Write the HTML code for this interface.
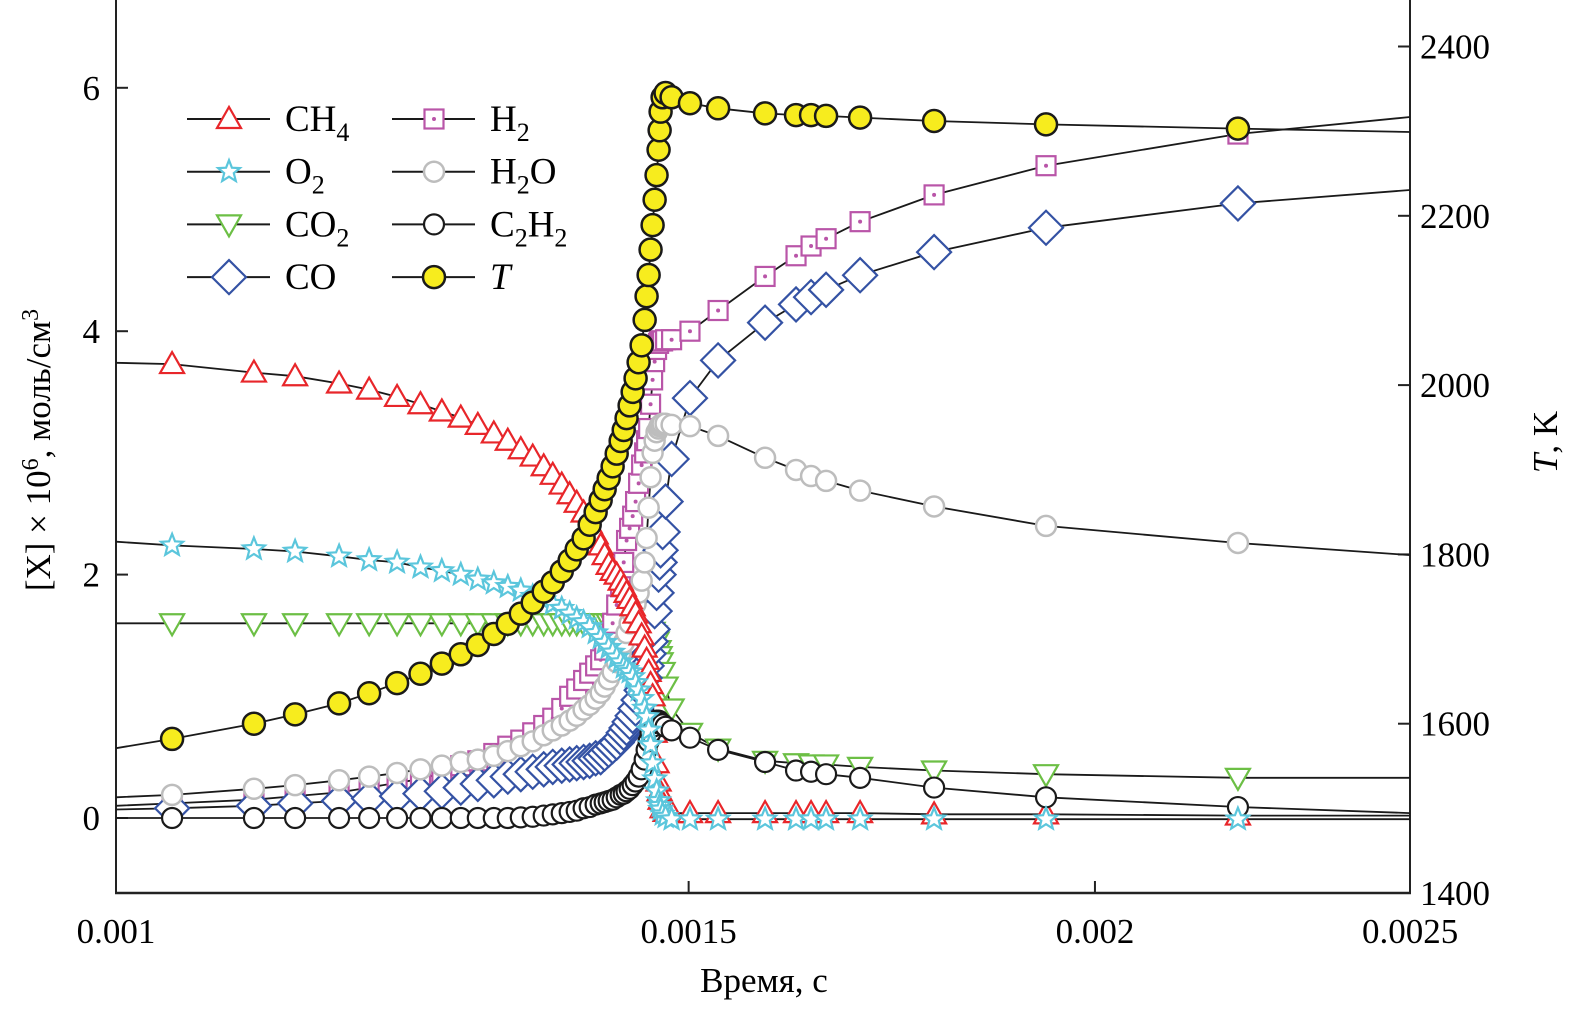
<!DOCTYPE html>
<html><head><meta charset="utf-8"><style>
html,body{margin:0;padding:0;background:#fff;}
svg{display:block;font-family:"Liberation Serif",serif;}
</style></head><body>
<svg id="chart" width="1582" height="1014" viewBox="0 0 1582 1014">
<g id="frame">
<line x1="116" y1="0" x2="116" y2="894" stroke="#222" stroke-width="2"/>
<line x1="1410" y1="0" x2="1410" y2="894" stroke="#222" stroke-width="2"/>
<line x1="115" y1="893" x2="1411" y2="893" stroke="#222" stroke-width="2.5"/>
</g>
<g id="ticks"></g>
<g id="series" clip-path="url(#clip)"></g>
<defs><clipPath id="clip"><rect x="116" y="0" width="1294" height="893"/></clipPath></defs>
<text x="764" y="992" font-size="35" text-anchor="middle">Время, с</text>
<text transform="translate(50,450) rotate(-90)" font-size="35" text-anchor="middle">[X] × 10<tspan dy="-12" font-size="24">6</tspan><tspan dy="12">, моль/см</tspan><tspan dy="-12" font-size="24">3</tspan></text>
<text transform="translate(1557,442) rotate(-90)" font-size="35" text-anchor="middle"><tspan font-style="italic">T</tspan>, K</text>
<g id="legend"></g>
</svg>
<script>
const times = [1.0,1.0405,1.1026,1.1352,1.1711,1.1963,1.2202,1.2406,1.2595,1.2765,1.2920,1.3067,1.3197,1.3319,1.3432,1.3537,1.3624,1.3711,1.3788,1.3857,1.3925,1.3985,1.4044,1.4094,1.4134,1.4174,1.4214,1.4255,1.4295,1.4326,1.4355,1.4386,1.4417,1.4447,1.4478,1.4509,1.4540,1.4560,1.4581,1.4601,1.4622,1.4643,1.4663,1.4684,1.4695,1.4705,1.4726,1.4757,1.4820,1.5014,1.5316,1.5834,1.6185,1.6358,1.6533,1.6936,1.7847,1.9319,2.2131,2.5];
const tempK = [1571,1582,1600,1611,1624,1636,1648,1659,1671,1682,1693,1706,1718,1730,1743,1756,1767,1780,1793,1806,1819,1835,1850,1864,1877,1890,1904,1919,1934,1947,1961,1976,1992,2008,2027,2047,2077,2105,2130,2160,2189,2219,2248,2278,2301,2323,2340,2345,2340,2333,2327,2321,2319,2319,2318,2316,2312,2308,2303,2299];
const ch4 = [3.74,3.73,3.66,3.63,3.57,3.52,3.46,3.40,3.34,3.29,3.23,3.16,3.10,3.03,2.97,2.89,2.82,2.74,2.66,2.59,2.51,2.42,2.33,2.24,2.16,2.08,2.03,2.0,1.95,1.9,1.85,1.8,1.74,1.68,1.6,1.5,1.4,1.3,1.2,1.1,1.0,0.7,0.45,0.3,0.22,0.15,0.08,0.05,0.04,0.04,0.04,0.04,0.04,0.04,0.04,0.04,0.03,0.03,0.02,0.02];
const o2 = [2.27,2.24,2.21,2.19,2.15,2.12,2.10,2.06,2.03,2.0,1.96,1.93,1.90,1.87,1.82,1.79,1.76,1.72,1.68,1.64,1.61,1.57,1.52,1.48,1.44,1.40,1.36,1.32,1.28,1.24,1.22,1.2,1.16,1.11,1.05,0.98,0.9,0.83,0.72,0.6,0.45,0.32,0.22,0.14,0.1,0.07,0.03,0.01,-0.01,-0.01,-0.01,-0.01,-0.01,-0.01,-0.01,-0.01,-0.01,-0.01,-0.01,-0.01];
const co2 = [1.6,1.6,1.6,1.6,1.6,1.6,1.6,1.6,1.6,1.6,1.6,1.6,1.6,1.6,1.6,1.6,1.6,1.6,1.6,1.6,1.6,1.6,1.6,1.6,1.6,1.6,1.6,1.6,1.6,1.6,1.6,1.6,1.6,1.6,1.6,1.6,1.6,1.59,1.58,1.56,1.53,1.50,1.45,1.38,1.33,1.28,1.20,1.08,0.90,0.70,0.57,0.47,0.45,0.44,0.44,0.42,0.39,0.36,0.33,0.33];
const h2 = [0.10,0.12,0.15,0.18,0.21,0.25,0.29,0.32,0.37,0.43,0.47,0.53,0.59,0.64,0.70,0.76,0.82,0.90,1.0,1.06,1.13,1.19,1.25,1.30,1.38,1.48,1.6,1.75,1.9,2.1,2.28,2.38,2.48,2.6,2.75,2.9,3.0,3.1,3.2,3.4,3.6,3.75,3.85,3.9,3.92,3.92,3.92,3.93,3.93,4.0,4.17,4.45,4.62,4.70,4.76,4.90,5.12,5.36,5.62,5.76];
const h2o = [0.17,0.19,0.24,0.27,0.31,0.34,0.37,0.40,0.43,0.46,0.48,0.51,0.55,0.59,0.63,0.68,0.72,0.76,0.80,0.84,0.89,0.93,0.98,1.03,1.08,1.14,1.2,1.28,1.36,1.44,1.52,1.6,1.68,1.76,1.85,1.95,2.1,2.3,2.55,2.8,3.0,3.1,3.17,3.2,3.22,3.23,3.24,3.24,3.23,3.22,3.14,2.96,2.86,2.81,2.77,2.69,2.56,2.40,2.26,2.16];
const co = [0.07,0.08,0.10,0.12,0.14,0.16,0.18,0.2,0.22,0.25,0.28,0.31,0.34,0.36,0.38,0.40,0.42,0.43,0.44,0.45,0.46,0.47,0.49,0.5,0.53,0.56,0.59,0.62,0.66,0.7,0.74,0.79,0.84,0.9,0.97,1.05,1.15,1.25,1.35,1.45,1.55,1.7,1.85,2.0,2.1,2.2,2.35,2.6,2.95,3.45,3.76,4.07,4.22,4.28,4.34,4.46,4.65,4.85,5.05,5.16];
const c2h2 = [0,0,0,0,0,0,0,0,0,0,0,0,0,0.005,0.01,0.02,0.03,0.04,0.05,0.06,0.08,0.09,0.11,0.12,0.13,0.14,0.15,0.17,0.19,0.2,0.22,0.24,0.27,0.3,0.34,0.4,0.48,0.56,0.63,0.7,0.75,0.78,0.8,0.8,0.79,0.78,0.77,0.75,0.72,0.66,0.56,0.46,0.39,0.38,0.36,0.33,0.25,0.17,0.09,0.04];
const xTickVals = [0.001,0.0015,0.002,0.0025];
const xTickLabels = ["0.001","0.0015","0.002","0.0025"];
const yLeftTicks = [0,2,4,6];
const yRightTicks = [1400,1600,1800,2000,2200,2400];

const NS="http://www.w3.org/2000/svg";
const xScale = t => 116 + 3252*Math.log10(t);       // t in ms
const xScaleS = s => xScale(s*1000);
const yL = v => 818 - 121.7*v;
const yR = T => 893 - (T-1400)*0.8465;
function mk(tag, attrs, parent){const e=document.createElementNS(NS,tag);for(const k in attrs)e.setAttribute(k,attrs[k]);parent.appendChild(e);return e;}

const ticks=document.getElementById('ticks');
xTickVals.forEach((v,i)=>{
  const x=xScaleS(v);
  if(i>0&&i<xTickVals.length-1){const l=mk('line',{x1:x,x2:x,y1:881,y2:893,stroke:'#222','stroke-width':2},ticks);
  
  }
  const t=mk('text',{x:x,y:943,'font-size':35,'text-anchor':'middle'},ticks);t.textContent=xTickLabels[i];
  
  
});
yLeftTicks.forEach(v=>{
  const y=yL(v);
  const l=mk('line',{x1:116,x2:128,y1:y,y2:y,stroke:'#222','stroke-width':2},ticks);
  
  
  const t=mk('text',{x:100,y:y+12,'font-size':35,'text-anchor':'end'},ticks);t.textContent=v;
  
  
});
yRightTicks.forEach(v=>{
  const y=yR(v);
  const l=mk('line',{x1:1398,x2:1410,y1:y,y2:y,stroke:'#222','stroke-width':2},ticks);
  
  
  const t=mk('text',{x:1420,y:y+12,'font-size':35},ticks);t.textContent=v;
  
  
});

function marker(kind, x, y, parent){
  let e;
  if(kind==='tri'){e=mk('polygon',{points:`${x-12},${y+9} ${x+12},${y+9} ${x},${y-12}`,fill:'#fff',stroke:'#e8262a','stroke-width':2.2},parent);}
  else if(kind==='itri'){e=mk('polygon',{points:`${x-12},${y-9} ${x+12},${y-9} ${x},${y+12}`,fill:'#fff',stroke:'#6cbf45','stroke-width':2.2},parent);}
  else if(kind==='star'){let p=[];for(let k=0;k<10;k++){const r=k%2?5:11.5;const a=-Math.PI/2+k*Math.PI/5;p.push((x+r*Math.cos(a)).toFixed(1)+','+(y+r*Math.sin(a)).toFixed(1));}
    e=mk('polygon',{points:p.join(' '),fill:'#fff',stroke:'#5bc6dc','stroke-width':2.2},parent);}
  else if(kind==='dia'){e=mk('polygon',{points:`${x-17},${y} ${x},${y-17} ${x+17},${y} ${x},${y+17}`,fill:'#fff',stroke:'#3452a4','stroke-width':2.2},parent);}
  else if(kind==='sq'){e=mk('g',{},parent);mk('rect',{x:x-9.5,y:y-9.5,width:19,height:19,fill:'#fff',stroke:'#b955a8','stroke-width':2.2},e);mk('circle',{cx:x,cy:y,r:2,fill:'#b955a8'},e);}
  else if(kind==='gc'){e=mk('circle',{cx:x,cy:y,r:10,fill:'#fff',stroke:'#bdbdbd','stroke-width':2.5},parent);}
  else if(kind==='bc'){e=mk('circle',{cx:x,cy:y,r:10,fill:'#fff',stroke:'#1a1a1a','stroke-width':2.2},parent);}
  else if(kind==='yc'){e=mk('circle',{cx:x,cy:y,r:11,fill:'#f7ec1e',stroke:'#1a1a1a','stroke-width':2.5},parent);}
  return e;
}

const seriesG=document.getElementById('series');
const defs=[
  {name:'co2',data:co2,kind:'itri',axis:yL},
  {name:'h2',data:h2,kind:'sq',axis:yL},
  {name:'co',data:co,kind:'dia',axis:yL},
  {name:'h2o',data:h2o,kind:'gc',axis:yL},
  {name:'ch4',data:ch4,kind:'tri',axis:yL},
  {name:'c2h2',data:c2h2,kind:'bc',axis:yL},
  {name:'o2',data:o2,kind:'star',axis:yL},
  {name:'temperature',data:tempK,kind:'yc',axis:yR}
];
defs.forEach(d=>{
  const pts=times.map((t,i)=>xScale(t).toFixed(1)+','+d.axis(d.data[i]).toFixed(1)).join(' ');
  const pl=mk('polyline',{points:pts,fill:'none',stroke:'#1a1a1a','stroke-width':1.8},seriesG);
  
  
});
defs.forEach(d=>{
  const g=mk('g',{},seriesG);
  
  
  for(let i=1;i<times.length-1;i++){
    const m=marker(d.kind,xScale(times[i]),d.axis(d.data[i]),g);
    
    
  }
});

const lg=document.getElementById('legend');
const legendItems=[
  {col:0,row:0,kind:'tri',html:'CH<tspan dy="10" font-size="26">4</tspan>'},
  {col:0,row:1,kind:'star',html:'O<tspan dy="10" font-size="26">2</tspan>'},
  {col:0,row:2,kind:'itri',html:'CO<tspan dy="10" font-size="26">2</tspan>'},
  {col:0,row:3,kind:'dia',html:'CO'},
  {col:1,row:0,kind:'sq',html:'H<tspan dy="10" font-size="26">2</tspan>'},
  {col:1,row:1,kind:'gc',html:'H<tspan dy="10" font-size="26">2</tspan><tspan dy="-10">O</tspan>'},
  {col:1,row:2,kind:'bc',html:'C<tspan dy="10" font-size="26">2</tspan><tspan dy="-10">H</tspan><tspan dy="10" font-size="26">2</tspan>'},
  {col:1,row:3,kind:'yc',html:'<tspan font-style="italic">T</tspan>'}
];
legendItems.forEach(it=>{
  const x0=it.col?392:187, y=119+it.row*52.7;
  const g=mk('g',{},lg);
  
  
  mk('line',{x1:x0,x2:x0+83,y1:y,y2:y,stroke:'#1a1a1a','stroke-width':2},g);
  marker(it.kind,x0+42,y,g);
  const t=mk('text',{x:x0+98,y:y+12,'font-size':37},g);t.innerHTML=it.html;
});
</script>
</body></html>
